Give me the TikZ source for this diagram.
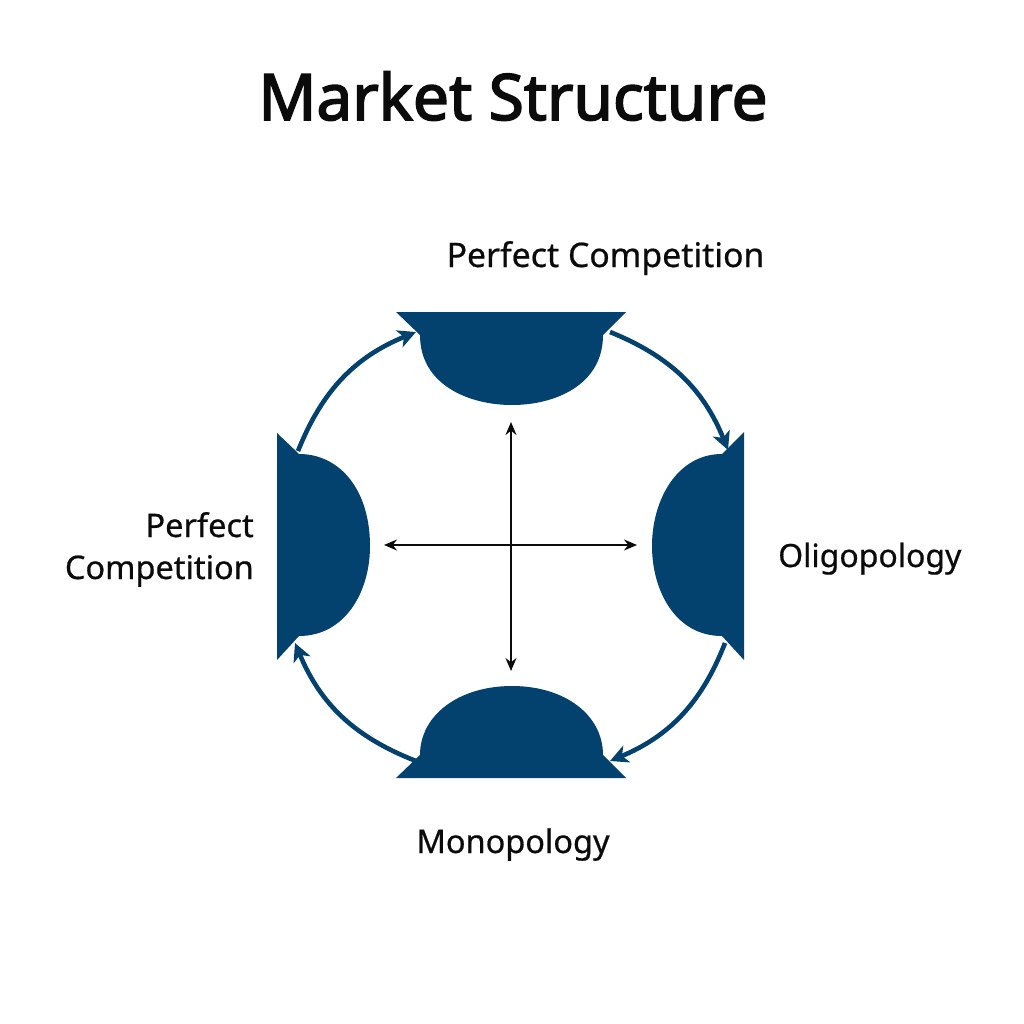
\documentclass[tikz,border=0pt]{standalone}
\usepackage{fontspec}
\setmainfont{Noto Sans}
\usetikzlibrary{arrows.meta}
\definecolor{navy}{HTML}{03426F}
\definecolor{ink}{HTML}{0B0B0B}
\tikzset{
  petal/.style={fill=navy,draw=none},
  cycle/.style={draw=navy,line width=4.6pt,-{Stealth[length=18pt,width=18pt,inset=5pt]}},
  axis/.style={draw=ink,line width=1.5pt,{Stealth[length=13pt,width=11pt]}-{Stealth[length=13pt,width=11pt]}},
  lab/.style={text=ink,font=\fontsize{32.5}{42}\selectfont,inner sep=0pt},
}
\begin{document}
\begin{tikzpicture}[x=1pt,y=-1pt]
\useasboundingbox (0,0) rectangle (1024,1024);
\fill[white] (0,0) rectangle (1024,1024);
\node[text=ink,inner sep=0pt,font=\fontsize{64}{70}\selectfont,anchor=base] (title) at (513,120) {\addfontfeature{FakeBold=2.5}Market Structure};
\node[lab,anchor=base,font=\fontsize{33.8}{42}\selectfont] (ltop) at (605.5,267) {\addfontfeature{FakeBold=0.6}Perfect Competition};
\node[lab,anchor=base east,align=right] (lleft) at (254,579) {\addfontfeature{FakeBold=0.6}Perfect\\\addfontfeature{FakeBold=0.6}Competition};
\node[lab,anchor=base west,font=\fontsize{32}{42}\selectfont] (lright) at (778,567) {\addfontfeature{FakeBold=0.6}Oligopology};
\node[lab,anchor=base] (lbot) at (513,853) {\addfontfeature{FakeBold=0.6}Monopology};
% petals
\fill[petal] (396,312) -- (626,312) -- (603,335) .. controls (603,385) and (555,405) .. (512,405) .. controls (469,405) and (420,385) .. (420,335) -- cycle;
\fill[petal] (396,778) -- (626,778) -- (603,755) .. controls (603,715) and (565,686) .. (512,686) .. controls (459,686) and (420,715) .. (420,755) -- cycle;
\fill[petal] (277,433) -- (277,660) -- (299,636) .. controls (345,636) and (370,592) .. (370,546) .. controls (370,490) and (340,454) .. (299,454) -- cycle;
\fill[petal] (744,432) -- (744,660) -- (722,636) .. controls (675,636) and (652,590) .. (652,546) .. controls (652,500) and (677,454) .. (722,454) -- cycle;
% connector ends
\coordinate (tl1) at (298,451); \coordinate (tl2) at (416,332);
\coordinate (tr1) at (610,332); \coordinate (tr2) at (728,450);
\coordinate (br1) at (725,643); \coordinate (br2) at (610,761);
\coordinate (bl1) at (416,761); \coordinate (bl2) at (295,643);
\coordinate (axL) at (384,545); \coordinate (axR) at (637,545);
\coordinate (axT) at (511,422); \coordinate (axB) at (511,671);
\draw[cycle] (tl1) to[bend left=23] (tl2);
\draw[cycle] (tr1) to[bend left=23] (tr2);
\draw[cycle] (br1) to[bend left=23] (br2);
\draw[cycle] (bl1) to[bend left=23] (bl2);
\draw[axis] (axL) -- (axR);
\draw[axis] (axT) -- (axB);
\end{tikzpicture}
\end{document}
